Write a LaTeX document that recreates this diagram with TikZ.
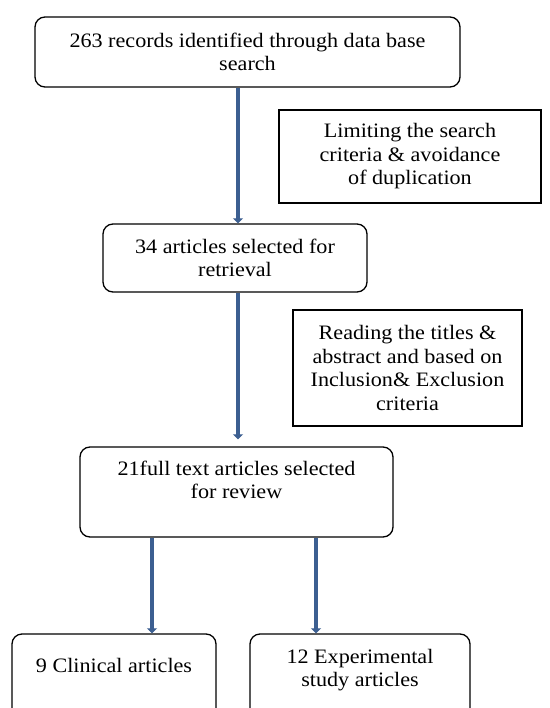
\documentclass[tikz,border=0pt]{standalone}
\usepackage{fontspec}
\setmainfont{Liberation Serif}[FakeStretch=1.08]
\usetikzlibrary{arrows.meta}
\definecolor{flowblue}{RGB}{60,95,145}

\begin{document}
\begin{tikzpicture}[x=1pt, y=-1pt,
		stagebox/.style={draw, line width=1.3pt, rounded corners=10pt, align=center, inner sep=0pt, font=\fontsize{20.5}{23.5}\selectfont},
		notebox/.style={draw, line width=1.3pt, align=center, inner sep=0pt, font=\fontsize{20.5}{23.5}\selectfont},
		flowarrow/.style={draw=flowblue, line width=4pt, -{Triangle[width=10pt,length=5pt]}}]
			%%%%% START %%%%%
			
			\useasboundingbox (0, 0) rectangle (549, 708);
			\clip (0, 0) rectangle (549, 708);
			
			\node[stagebox, minimum width=425pt, minimum height=70pt] (records) at (247.5, 52) {263 records identified through data base\\search};
			\node[notebox, minimum width=262pt, minimum height=93pt] (limits) at (410, 156.5) {Limiting the search\\criteria \& avoidance\\of duplication};
			
			\node[stagebox, minimum width=264pt, minimum height=68pt] (retrieval) at (235, 258) {34 articles selected for\\retrieval};
			\node[notebox, minimum width=229pt, minimum height=116pt] (reading) at (407.5, 368) {Reading the titles \&\\abstract and based on\\Inclusion\& Exclusion\\criteria};
			
			\node[stagebox, minimum width=313pt, minimum height=90pt, text depth=24pt] (review) at (236.5, 492) {21full text articles selected\\for review};
			
			\node[stagebox, minimum width=204pt, minimum height=86pt, text depth=24pt] (clinical) at (114, 677) {9 Clinical articles};
			\node[stagebox, minimum width=220pt, minimum height=86pt, text depth=18pt] (experimental) at (360, 677) {12 Experimental\\study articles};
			
			% arrows
			\draw[flowarrow] ([xshift=3pt]retrieval.north |- records.south) -- ([xshift=3pt]retrieval.north);
			\draw[flowarrow, shorten >=7pt] ([xshift=3pt]retrieval.south) -- ([xshift=3pt]retrieval.south |- review.north);
			\draw[flowarrow] ([xshift=38pt]clinical.north |- review.south) -- ([xshift=38pt]clinical.north);
			\draw[flowarrow] ([xshift=-44pt]experimental.north |- review.south) -- ([xshift=-44pt]experimental.north);
			
			%%%%% END %%%%%
		\end{tikzpicture}
\end{document}
